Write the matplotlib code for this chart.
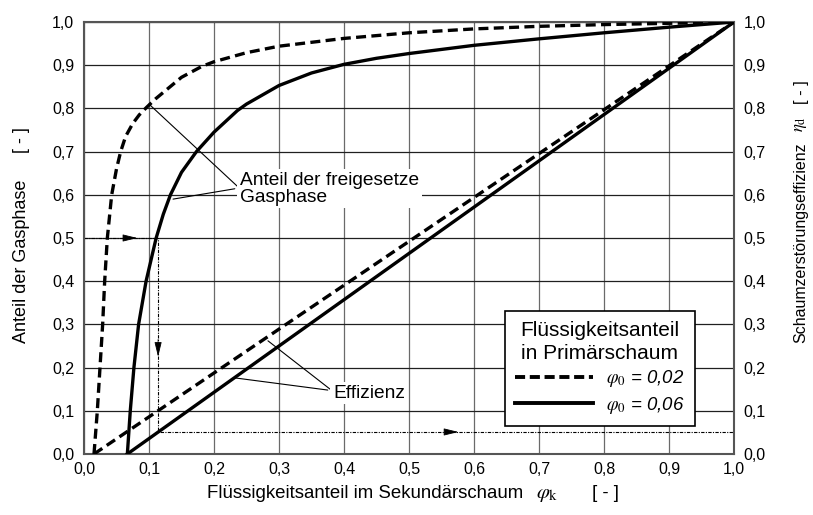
import numpy as np
import matplotlib.pyplot as plt
from matplotlib.lines import Line2D

plt.rcParams['font.family'] = ['Liberation Sans', 'DejaVu Sans']
plt.rcParams['mathtext.fontset'] = 'stix'

# Gas fraction curves
phi_k_002 = [0.0154, 0.0205, 0.0246, 0.0287, 0.0318, 0.0359, 0.0426, 0.05, 0.0564, 0.064,
             0.075, 0.085, 0.096, 0.11, 0.13, 0.15, 0.181, 0.2, 0.25, 0.3, 0.4, 0.5,
             0.6, 0.7, 0.8, 0.9, 1.0]
gas_002 = [0.0, 0.1, 0.2, 0.3, 0.4, 0.5, 0.6, 0.66, 0.7, 0.735,
           0.765, 0.785, 0.802, 0.822, 0.847, 0.872, 0.897, 0.908, 0.929, 0.944, 0.962, 0.975,
           0.984, 0.990, 0.994, 0.997, 1.0]

phi_k_006 = [0.0667, 0.0712, 0.0768, 0.084, 0.0955, 0.111, 0.122, 0.133, 0.15, 0.173,
             0.2, 0.236, 0.25, 0.3, 0.35, 0.4, 0.45, 0.5, 0.6, 0.7, 0.8, 0.9, 1.0]
gas_006 = [0.0, 0.1, 0.2, 0.3, 0.4, 0.5, 0.555, 0.6, 0.652, 0.7,
           0.745, 0.795, 0.81, 0.853, 0.882, 0.902, 0.916, 0.927, 0.946, 0.961, 0.975, 0.988, 1.0]

# Efficiency lines
eff_x_002 = [0.0154, 1.0]
eff_002 = [0.0, 1.0]
eff_x_006 = [0.0667, 1.0]
eff_006 = [0.0, 1.0]

# reading example (dotted guide)
guide_x = [0.0, 0.114, 0.114, 1.0]
guide_y = [0.5, 0.5, 0.051, 0.051]

ticks = [0.0, 0.1, 0.2, 0.3, 0.4, 0.5, 0.6, 0.7, 0.8, 0.9, 1.0]
tick_labels = ['0,0', '0,1', '0,2', '0,3', '0,4', '0,5', '0,6', '0,7', '0,8', '0,9', '1,0']

fig = plt.figure(figsize=(8.13, 5.15), dpi=100)
ax = fig.add_axes([84 / 813, 1 - 454 / 515, 650 / 813, 432 / 515])

ax.set_xlim(0, 1)
ax.set_ylim(0, 1)
ax.set_xticks(ticks)
ax.set_yticks(ticks)
ax.set_xticklabels(tick_labels)
ax.set_yticklabels(tick_labels)
ax.tick_params(length=0, labelsize=11.5, labelright=True)
ax.tick_params(axis='x', pad=6)
ax.tick_params(axis='y', pad=7)
ax.xaxis.grid(True, color='#6a6a6a', lw=0.9)
ax.yaxis.grid(True, color='#202020', lw=0.9)
ax.set_axisbelow(True)
for s in ax.spines.values():
    s.set_color('#555555')
    s.set_linewidth(1.5)

dash = (3.0, 1.6)
lw = 2.4
ax.plot(phi_k_002, gas_002, color='black', lw=lw, dashes=dash, zorder=3)
ax.plot(phi_k_006, gas_006, color='black', lw=lw, zorder=3)
ax.plot(eff_x_002, eff_002, color='black', lw=lw, dashes=dash, zorder=3)
ax.plot(eff_x_006, eff_006, color='black', lw=lw, zorder=3)

# guide line with arrows
ax.plot(guide_x, guide_y, color='black', lw=0.8, ls=(0, (3, 1.2, 1, 1.2)), zorder=2)
arrow_kw = dict(arrowstyle='-|>,head_length=0.9,head_width=0.22', color='black',
                lw=0.6, shrinkA=0, shrinkB=0)
ax.annotate('', xy=(0.082, 0.5), xytext=(0.062, 0.5), arrowprops=arrow_kw, zorder=4)
ax.annotate('', xy=(0.114, 0.225), xytext=(0.114, 0.265), arrowprops=arrow_kw, zorder=4)
ax.annotate('', xy=(0.576, 0.051), xytext=(0.556, 0.051), arrowprops=arrow_kw, zorder=4)

# annotations
lead = dict(arrowstyle='-', color='black', lw=0.8, shrinkA=0, shrinkB=0)
ax.annotate('Anteil der freigesetze\nGasphase', xy=(0.1, 0.81), xytext=(0.24, 0.614),
            ha='left', va='center', fontsize=13.8, linespacing=1.0,
            bbox=dict(facecolor='white', edgecolor='none', pad=2),
            arrowprops=dict(lead, relpos=(0, 0.5)), zorder=5)
ax.annotate('', xy=(0.137, 0.59), xytext=(0.232, 0.614), arrowprops=lead, zorder=5)

ax.annotate('Effizienz', xy=(0.283, 0.262), xytext=(0.383, 0.141),
            ha='left', va='center', fontsize=13.8,
            bbox=dict(facecolor='white', edgecolor='none', pad=2),
            arrowprops=dict(lead, relpos=(0, 0.6)), zorder=5)
ax.annotate('', xy=(0.233, 0.176), xytext=(0.375, 0.148), arrowprops=lead, zorder=5)

# legend
handles = [Line2D([], [], color='black', lw=lw + 0.4, dashes=(2.6, 1.2)),
           Line2D([], [], color='black', lw=lw + 0.4)]
labels = [r'$\varphi_{\mathit{0}}$ = 0,02', r'$\varphi_{\mathit{0}}$ = 0,06']
leg = ax.legend(handles, labels, title='Flüssigkeitsanteil\nin Primärschaum',
                loc='lower right', bbox_to_anchor=(0.94, 0.065), borderaxespad=0,
                prop={'style': 'italic', 'size': 13.4}, title_fontsize=15,
                handlelength=4.2, handletextpad=0.7, fancybox=False,
                framealpha=1, edgecolor='black', borderpad=0.55, labelspacing=0.3)
leg.get_frame().set_linewidth(1.2)
leg.get_title().set_multialignment('center')
leg.get_title().set_linespacing(1.25)

# axis labels
fig.text(207 / 813, 1 - 494 / 515, 'Flüssigkeitsanteil im Sekundärschaum',
         fontsize=13.4, ha='left', va='center')
fig.text(547 / 813, 1 - 494 / 515, r'$\varphi_{\mathrm{k}}$', fontsize=15,
         ha='center', va='center')
fig.text(605 / 813, 1 - 494 / 515, '[ - ]', fontsize=13.4, ha='center', va='center')

fig.text(21 / 813, 1 - 261 / 515, 'Anteil der Gasphase', fontsize=13,
         rotation=90, ha='center', va='center')
fig.text(21 / 813, 1 - 140 / 515, '[ - ]', fontsize=13, rotation=90,
         ha='center', va='center')

fig.text(801 / 813, 1 - 243 / 515, 'Schaumzerstörungseffizienz', fontsize=11.5,
         rotation=90, ha='center', va='center')
fig.text(801 / 813, 1 - 124 / 515, r'$\eta_{\mathrm{d}}$', fontsize=12,
         rotation=90, ha='center', va='center')
fig.text(801 / 813, 1 - 92 / 515, '[ - ]', fontsize=12, rotation=90,
         ha='center', va='center')

fig.savefig('out.png', dpi=100)
